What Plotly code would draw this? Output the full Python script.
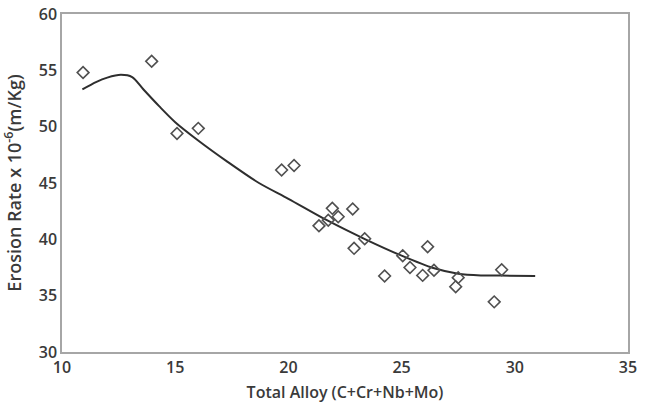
import plotly.graph_objects as go

# Measured points
alloy = [10.93, 13.96, 15.08, 16.02, 19.70, 20.25, 21.35, 21.76, 21.94, 22.20,
         22.84, 22.90, 23.37, 24.25, 25.05, 25.37, 26.15, 25.93, 26.43, 27.50,
         27.39, 29.09, 29.42]
erosion = [54.8, 55.8, 49.4, 49.85, 46.15, 46.55, 41.2, 41.7, 42.75, 42.0,
           42.7, 39.2, 40.05, 36.75, 38.55, 37.5, 39.35, 36.8, 37.25, 36.6,
           35.8, 34.45, 37.3]

# Trend curve
trend_x = [10.9, 11.5, 12.0, 12.6, 13.1, 13.6, 14.3, 15.0, 16.0, 17.3,
           18.7, 20.0, 21.7, 23.4, 25.0, 26.4, 27.5, 28.5, 29.4, 30.9]
trend_y = [53.3, 53.95, 54.35, 54.6, 54.4, 53.3, 51.8, 50.4, 48.8, 46.9,
           45.0, 43.6, 41.7, 40.0, 38.55, 37.45, 36.95, 36.8, 36.78, 36.75]

x_ticks = [10, 15, 20, 25, 30, 35]
y_ticks = [30, 35, 40, 45, 50, 55, 60]

font_fam = "Open Sans, Liberation Sans, sans-serif"
txt_col = "#3a3a3a"

fig = go.Figure()
fig.add_trace(go.Scatter(
    x=trend_x, y=trend_y, mode="lines",
    line=dict(color="#2e2e2e", width=2, shape="spline", smoothing=0.8),
    showlegend=False,
))
fig.add_trace(go.Scatter(
    x=alloy, y=erosion, mode="markers",
    marker=dict(symbol="diamond-open", size=9, color="#505050",
                line=dict(width=1.6, color="#505050")),
    showlegend=False,
))

fig.update_layout(
    width=645, height=405,
    margin=dict(l=62, r=17, t=14, b=53, autoexpand=False),
    paper_bgcolor="white", plot_bgcolor="white",
    font=dict(family=font_fam, color=txt_col, size=14),
)
fig.update_xaxes(
    range=[10, 35], tickvals=x_ticks, showgrid=False, zeroline=False,
    showline=True, linecolor="#a6a6a6", linewidth=1.5, mirror=True,
    ticks="", automargin=False,
    tickfont=dict(size=16, color=txt_col, weight=600),
    title=dict(text="Total Alloy (C+Cr+Nb+Mo)",
               font=dict(size=16, color=txt_col, weight=600), standoff=10),
)
fig.update_yaxes(
    range=[30, 60], tickvals=y_ticks, showgrid=False, zeroline=False,
    showline=True, linecolor="#a6a6a6", linewidth=1.5, mirror=True,
    ticks="", automargin=False,
    tickfont=dict(size=16, color=txt_col, weight=600),
    title=dict(text="Erosion Rate x 10<sup>-6</sup>(m/Kg)",
               font=dict(size=18, color=txt_col, weight=600), standoff=14),
)

# remove the default 8px page margin so the figure sits at the window origin
fig.write_html("out.html", config={"displayModeBar": False},
               post_script="document.body.style.margin='0';")
